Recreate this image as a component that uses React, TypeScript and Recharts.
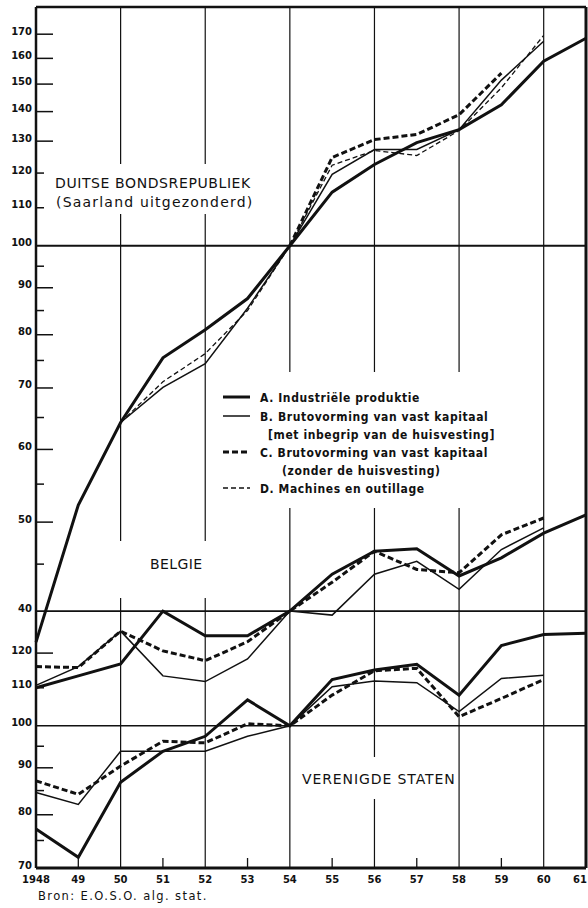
import React from "react";
import { LineChart, Line, XAxis, YAxis, ReferenceLine } from "recharts";

// Indexcijfers, 1954 = 100 (logaritmische schaal)
const years = [1948, 1949, 1950, 1951, 1952, 1953, 1954, 1955, 1956, 1957, 1958, 1959, 1960, 1961];
const gridYears = [1950, 1952, 1954, 1956, 1958, 1960];
const oddYears = [1949, 1951, 1953, 1955, 1957, 1959];

// Duitse Bondsrepubliek
const duitsA = [37, 52.2, 64.2, 75.5, 81, 87.6, 100, 114.4, 122.6, 129.5, 133.8, 142.4, 158.9, 168.3];
const duitsB = [null, null, 64.2, 70.1, 74.4, 85.5, 100, 119.6, 127.3, 127.3, 133.8, 151.5, 167, null];
const duitsC = [null, null, null, null, null, null, 100, 124.8, 130.5, 132.2, 138.9, 154.2, null, null];
const duitsD = [null, null, 64.2, 71.1, 76.3, 85, 100, 122.4, 127, 125.4, 133.5, 148.6, 169.5, null];

// Belgie
const belgieA = [82.5, 85, 87.6, 100, 94, 94, 100, 109.7, 116.2, 116.9, 109.2, 114.3, 121.6, 127.3];
const belgieB = [83, 87, 95.1, 85, 83.8, 88.7, 100, 99, 109.7, 113.3, 105.6, 116.7, 123.2, null];
const belgieC = [87, 86.8, 95.1, 90.5, 88.3, 92.6, 100, 107.5, 116.2, 111, 110.1, 121.1, 126.3, null];

// Verenigde Staten
const vsA = [77.2, 71.9, 86.8, 93.8, 97.4, 106.7, 100, 112.3, 115, 116.7, 108, 122.3, 125.7, 126.1];
const vsB = [84.6, 82.1, 93.8, 93.8, 93.8, 97.4, 100, 110.3, 111.9, 111.4, 103.6, 112.6, 113.5, null];
const vsC = [87.1, 84.2, 90.4, 96.2, 95.8, 100.5, 100, 108, 114.8, 115.5, 102.3, 107.1, 112.3, null];

// tick labels
const duitsLabels = [170, 160, 150, 140, 130, 120, 110, 100, 90, 80, 70, 60, 50, 40];
const duitsMinor = [95, 85, 75, 65, 55, 45];
const vsLabels = [120, 110, 100, 90, 80, 70];
const vsMinor = [95, 85, 75];
const belgieRight = [130, 120, 110, 90, 85, 80];

// Belgie en V.S. zijn op dezelfde log-schaal naar beneden geschoven
const BELGIE_FACTOR = 0.4; // 100 valt op de "40"-lijn
const VS_FACTOR = 0.3; // 100 valt op de onderste 100-lijn

const shift = (v: number | null, f: number) => (v == null ? null : v * f);

const data = years.map((year, i) => ({
  year,
  dA: duitsA[i],
  dB: duitsB[i],
  dC: duitsC[i],
  dD: duitsD[i],
  bA: shift(belgieA[i], BELGIE_FACTOR),
  bB: shift(belgieB[i], BELGIE_FACTOR),
  bC: shift(belgieC[i], BELGIE_FACTOR),
  uA: shift(vsA[i], VS_FACTOR),
  uB: shift(vsB[i], VS_FACTOR),
  uC: shift(vsC[i], VS_FACTOR),
}));

const leftTicks = [
  ...duitsLabels,
  ...duitsMinor,
  ...vsLabels.map((v) => v * VS_FACTOR),
  ...vsMinor.map((v) => v * VS_FACTOR),
];
const rightTicks = belgieRight.map((v) => v * BELGIE_FACTOR);

const PLOT_LEFT = 36;
const PLOT_RIGHT = 586;
const PLOT_TOP = 7;
const PLOT_BOTTOM = 868;
const INK = "#111";
const TICK_FONT = "'DejaVu Sans', sans-serif";
const LEGEND_FONT = "'Liberation Sans Narrow', 'DejaVu Sans Condensed', 'DejaVu Sans', sans-serif";

const styleA = { stroke: INK, strokeWidth: 3 };
const styleB = { stroke: INK, strokeWidth: 1.5 };
const styleC = { stroke: INK, strokeWidth: 3, strokeDasharray: "6 3" };
const styleD = { stroke: INK, strokeWidth: 1.3, strokeDasharray: "5 3" };

function leftTick(props: any) {
  const { y, payload } = props;
  const raw = payload.value as number;
  const isVS = raw < 39;
  const v = isVS ? Math.round(raw / VS_FACTOR) : raw;
  const labelled = isVS ? vsLabels.includes(v) : duitsLabels.includes(v);
  const fullLine = v === 100 || (!isVS && v === 40) || (isVS && v === 70);
  const short = !labelled || (!isVS && (v === 120 || v === 110)) || (isVS && v === 110);
  const len = short ? 8 : 17;
  return (
    <g>
      {labelled && (
        <text
          x={PLOT_LEFT - 4}
          y={y - 3}
          textAnchor="end"
          dominantBaseline="central"
          fontFamily={TICK_FONT}
          fontWeight="bold"
          fontSize={10}
          fill={INK}
        >
          {v}
        </text>
      )}
      {!fullLine && (
        <line x1={PLOT_LEFT} x2={PLOT_LEFT + len} y1={y} y2={y} stroke={INK} strokeWidth={1.5} />
      )}
    </g>
  );
}

function rightTick(props: any) {
  const { y } = props;
  return <line x1={PLOT_RIGHT - 18} x2={PLOT_RIGHT} y1={y} y2={y} stroke={INK} strokeWidth={1.3} />;
}

function bottomTick(props: any) {
  const { x, payload } = props;
  const yr = payload.value as number;
  const label = yr === 1948 ? "1948" : String(yr).slice(2);
  const last = yr === years[years.length - 1];
  return (
    <g>
      {yr % 2 === 1 && (
        <line x1={x} x2={x} y1={PLOT_BOTTOM} y2={PLOT_BOTTOM - 10} stroke={INK} strokeWidth={1.3} />
      )}
      <text
        x={last ? x + 1 : x}
        y={PLOT_BOTTOM + 11}
        textAnchor={last ? "end" : "middle"}
        dominantBaseline="central"
        fontFamily={TICK_FONT}
        fontWeight="bold"
        fontSize={10}
        fill={INK}
      >
        {label}
      </text>
    </g>
  );
}

function topTick(props: any) {
  const { x } = props;
  return <line x1={x} x2={x} y1={PLOT_TOP} y2={PLOT_TOP + 10} stroke={INK} strokeWidth={1.3} />;
}

const legendRows = [
  { y: 397, text: "A. Industriële produktie", style: styleA, x: 260 },
  { y: 416, text: "B. Brutovorming van vast kapitaal", style: styleB, x: 260 },
  { y: 434, text: "[met inbegrip van de huisvesting]", style: null, x: 268 },
  { y: 452, text: "C. Brutovorming van vast kapitaal", style: styleC, x: 260 },
  { y: 470, text: "(zonder de huisvesting)", style: null, x: 282 },
  { y: 488, text: "D. Machines en outillage", style: styleD, x: 260 },
];

function Overlay() {
  const title = { fontFamily: TICK_FONT, fontSize: 14, fill: INK };
  return (
    <svg
      width={588}
      height={908}
      style={{ position: "absolute", left: 0, top: 0, pointerEvents: "none" }}
    >
      {/* de rasterlijnen zijn onderbroken achter de teksten */}
      <rect x={50} y={164} width={210} height={50} fill="#fff" />
      <rect x={114} y={541} width={98} height={57} fill="#fff" />
      <rect x={298} y={757} width={152} height={42} fill="#fff" />
      <rect x={215} y={372} width={290} height={136} fill="#fff" />

      <text x={55} y={188} {...title} letterSpacing={0.6}>
        DUITSE BONDSREPUBLIEK
      </text>
      <text x={56} y={207} {...title} letterSpacing={1.2}>
        (Saarland uitgezonderd)
      </text>
      <text x={150} y={569} {...title} letterSpacing={0.4}>
        BELGIE
      </text>
      <text x={302} y={784} {...title} letterSpacing={0.9}>
        VERENIGDE STATEN
      </text>
      {legendRows.map((r) => (
        <g key={r.text}>
          {r.style && (
            <line
              x1={223}
              x2={250}
              y1={r.y}
              y2={r.y}
              stroke={r.style.stroke}
              strokeWidth={r.style.strokeWidth}
              strokeDasharray={(r.style as any).strokeDasharray}
            />
          )}
          <text
            x={r.x}
            y={r.y + 4.5}
            fontFamily={LEGEND_FONT}
            fontWeight="bold"
            fontSize={12}
            letterSpacing={0.6}
            fill={INK}
          >
            {r.text}
          </text>
        </g>
      ))}
      <text x={38} y={900} fontFamily={TICK_FONT} fontSize={11.5} letterSpacing={1.4} fill={INK}>
        Bron: E.O.S.O. alg. stat.
      </text>
    </svg>
  );
}

export default function App() {
  return (
    <div style={{ position: "absolute", left: 0, top: 0, width: 588, height: 908, background: "#fff" }}>
      <LineChart width={588} height={908} data={data} margin={{ top: 7, right: 2, bottom: 20, left: 0 }}>
        <XAxis
          dataKey="year"
          type="number"
          domain={[1948, 1961]}
          ticks={years}
          interval={0}
          height={20}
          axisLine={{ stroke: INK, strokeWidth: 3 }}
          tickLine={false}
          tick={bottomTick}
        />
        <XAxis
          xAxisId="top"
          orientation="top"
          type="number"
          domain={[1948, 1961]}
          ticks={oddYears}
          interval={0}
          height={0}
          axisLine={false}
          tickLine={false}
          tick={topTick}
        />
        <YAxis
          scale="log"
          type="number"
          domain={[21, 182]}
          allowDataOverflow
          ticks={leftTicks}
          interval={0}
          width={36}
          axisLine={{ stroke: INK, strokeWidth: 2.5 }}
          tickLine={false}
          tick={leftTick}
        />
        <YAxis
          yAxisId="r"
          orientation="right"
          scale="log"
          type="number"
          domain={[21, 182]}
          allowDataOverflow
          ticks={rightTicks}
          interval={0}
          width={0}
          axisLine={false}
          tickLine={false}
          tick={rightTick}
        />
        {gridYears.map((yr) => (
          <ReferenceLine key={yr} x={yr} stroke={INK} strokeWidth={1.2} />
        ))}
        <ReferenceLine y={100} stroke={INK} strokeWidth={1.8} />
        <ReferenceLine y={100 * BELGIE_FACTOR} stroke={INK} strokeWidth={1.6} />
        <ReferenceLine y={100 * VS_FACTOR} stroke={INK} strokeWidth={1.6} />
        <ReferenceLine y={182} stroke={INK} strokeWidth={2.5} />
        <ReferenceLine x={1961} stroke={INK} strokeWidth={3} />

        <Line dataKey="dA" type="linear" dot={false} {...styleA} isAnimationActive={false} />
        <Line dataKey="dB" type="linear" dot={false} {...styleB} isAnimationActive={false} />
        <Line dataKey="dC" type="linear" dot={false} {...styleC} isAnimationActive={false} />
        <Line dataKey="dD" type="linear" dot={false} {...styleD} isAnimationActive={false} />
        <Line dataKey="bA" type="linear" dot={false} {...styleA} isAnimationActive={false} />
        <Line dataKey="bB" type="linear" dot={false} {...styleB} isAnimationActive={false} />
        <Line dataKey="bC" type="linear" dot={false} {...styleC} isAnimationActive={false} />
        <Line dataKey="uA" type="linear" dot={false} {...styleA} isAnimationActive={false} />
        <Line dataKey="uB" type="linear" dot={false} {...styleB} isAnimationActive={false} />
        <Line dataKey="uC" type="linear" dot={false} {...styleC} isAnimationActive={false} />
      </LineChart>
      <Overlay />
    </div>
  );
}
